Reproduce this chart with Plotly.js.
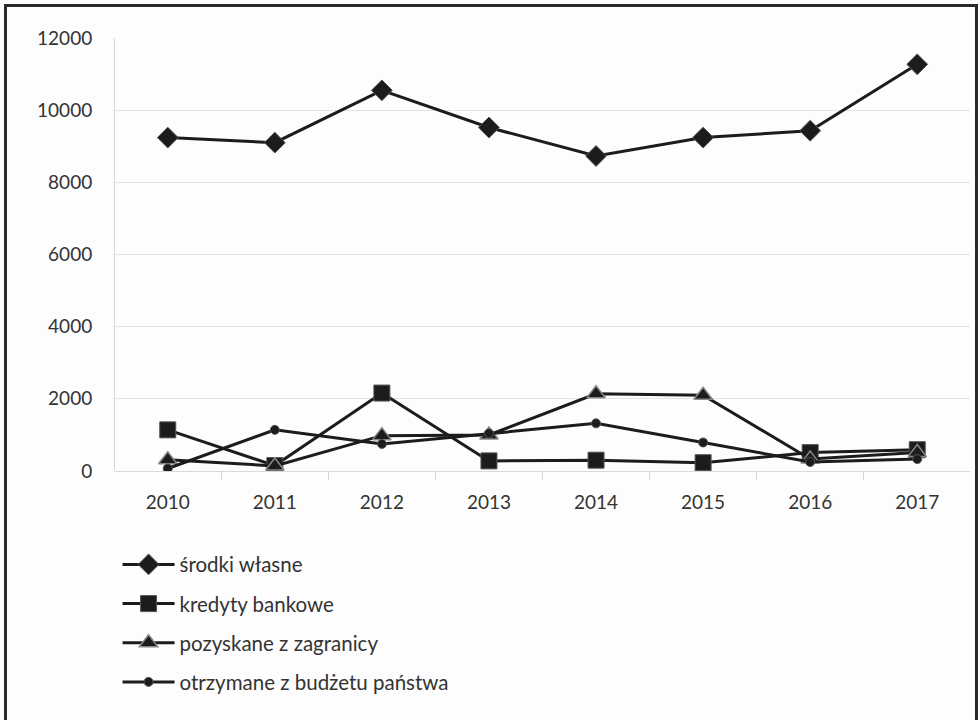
<!DOCTYPE html>
<html><head><meta charset="utf-8">
<script src="https://cdn.plot.ly/plotly-3.0.1.min.js"></script>
<style>
body{margin:0;background:#fff;}
#chart{position:absolute;left:0;top:0;width:980px;height:720px;}
#frame{position:absolute;left:4px;top:4px;width:968px;height:760px;border:3px solid #2a2a2a;pointer-events:none;}
</style></head>
<body>
<div id="chart"></div>
<div id="frame"></div>
<script>
const years = ['2010','2011','2012','2013','2014','2015','2016','2017'];
const srodkiWlasne = [9240, 9100, 10550, 9520, 8730, 9240, 9430, 11270];
const kredytyBankowe = [1140, 150, 2160, 280, 300, 230, 510, 590];
const pozyskaneZZagranicy = [310, 140, 980, 1000, 2140, 2100, 330, 510];
const otrzymaneZBudzetu = [70, 1140, 750, 1040, 1320, 790, 250, 330];
const names = ['środki własne','kredyty bankowe','pozyskane z zagranicy','otrzymane z budżetu państwa'];

const lineC = '#1c1c1c';
function tr(y, name, symbol, size, mline, grp){
  return {x: years, y: y, name: name, type:'scatter', mode:'lines+markers', legendgroup: grp,
    line:{color:lineC, width:3},
    marker:{symbol:symbol, size:size, color:lineC, line:mline}};
}
const data = [
  tr(srodkiWlasne, names[0], 'diamond', 16, {color:'#555', width:1}, 'a'),
  tr(kredytyBankowe, names[1], 'square', 16, {color:'#555', width:1}, 'b'),
  tr(pozyskaneZZagranicy, names[2], 'triangle-up', 16, {color:'#888', width:1.5}, 'c'),
  tr(otrzymaneZBudzetu, names[3], 'circle', 9, {color:'#555', width:1}, 'd')
];
const tickFont = {family:'Lato, "Open Sans", sans-serif', size:19, color:'#333'};
const layout = {
  width:980, height:720,
  paper_bgcolor:'#fdfdfd', plot_bgcolor:'#fdfdfd',
  margin:{l:115, r:10, t:38, b:249},
  showlegend:true,
  legend:{x:0.003, xanchor:'left', y:-0.17, yanchor:'top', orientation:'v',
    font:{family:'Lato, "Open Sans", sans-serif', size:20.5, color:'#333'},
    itemwidth:52,
    tracegroupgap:9.5, bgcolor:'rgba(0,0,0,0)'},
  xaxis:{type:'category', tickfont:tickFont, showgrid:false, ticks:'outside', tickson:'boundaries',
    ticklen:8, tickcolor:'#d9d9d9', showline:false, zeroline:false, ticklabelstandoff:18},
  yaxis:{range:[0,12000], tickvals:[0,2000,4000,6000,8000,10000,12000], ticktext:['0','2000','4000','6000','8000','10000','12000'],
    tickfont:tickFont, gridcolor:'#e3e3e3', gridwidth:1, showline:true, linecolor:'#d9d9d9', linewidth:1,
    zeroline:true, zerolinecolor:'#d9d9d9', zerolinewidth:1, ticks:'', ticklabelstandoff:18},
};
Plotly.newPlot('chart', data, layout, {displayModeBar:false, staticPlot:true});
</script>
</body></html>
